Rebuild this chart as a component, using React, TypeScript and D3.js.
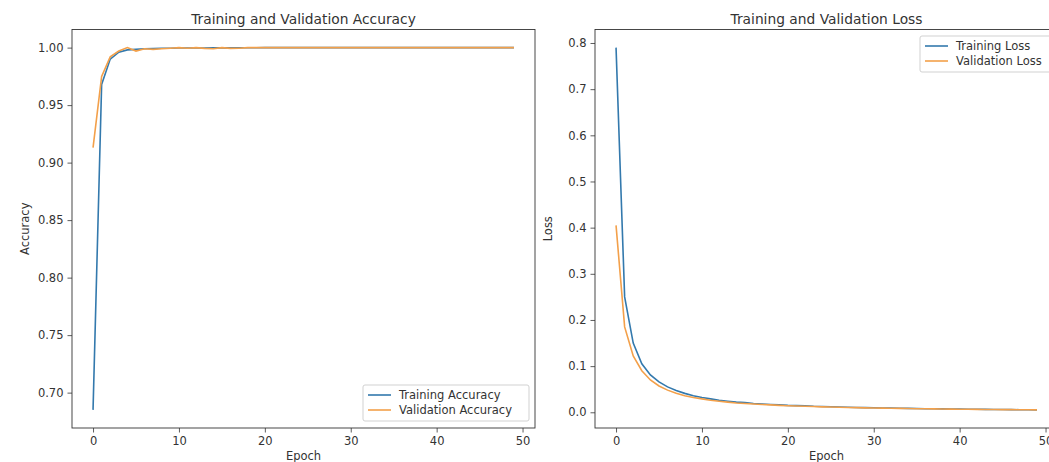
import React, { useEffect, useRef } from "react";
import {
  axisBottom,
  axisLeft,
  scaleLinear,
  line,
  select,
  format,
  min,
  max
} from "d3";

// values (50 epochs)
const epochs = Array.from({ length: 50 }, (_, i) => i);

const trainAcc = [
  0.685, 0.968, 0.99, 0.996, 0.998, 0.9985, 0.999, 0.9992, 0.9994, 0.9995,
  0.9996, 0.9996, 0.9997, 0.9997, 0.9998, 0.9998, 0.9998, 0.9999, 0.9999, 0.9999,
  1.0, 1.0, 1.0, 1.0, 1.0, 1.0, 1.0, 1.0, 1.0, 1.0,
  1.0, 1.0, 1.0, 1.0, 1.0, 1.0, 1.0, 1.0, 1.0, 1.0,
  1.0, 1.0, 1.0, 1.0, 1.0, 1.0, 1.0, 1.0, 1.0, 1.0
];

const valAcc = [
  0.913, 0.975, 0.992, 0.997, 1.0, 0.997, 0.999, 0.9985, 0.999, 0.9995,
  1.0, 0.9995, 1.0, 0.9993, 0.999, 1.0, 0.9993, 0.9995, 1.0, 1.0,
  1.0, 1.0, 1.0, 1.0, 1.0, 1.0, 1.0, 1.0, 1.0, 1.0,
  1.0, 1.0, 1.0, 1.0, 1.0, 1.0, 1.0, 1.0, 1.0, 1.0,
  1.0, 1.0, 1.0, 1.0, 1.0, 1.0, 1.0, 1.0, 1.0, 1.0
];

const trainLoss = [
  0.79, 0.25, 0.15, 0.105, 0.081, 0.066, 0.055, 0.047, 0.041, 0.036,
  0.032, 0.029, 0.026, 0.024, 0.022, 0.021, 0.019, 0.018, 0.017, 0.016,
  0.015, 0.0145, 0.014, 0.013, 0.0125, 0.012, 0.0115, 0.011, 0.0105, 0.01,
  0.0098, 0.0094, 0.009, 0.0087, 0.0084, 0.0081, 0.0078, 0.0076, 0.0073, 0.0071,
  0.0069, 0.0067, 0.0065, 0.0063, 0.0061, 0.0059, 0.0058, 0.0056, 0.0055, 0.0053
];

const valLoss = [
  0.405, 0.185, 0.122, 0.09, 0.07, 0.057, 0.048, 0.041, 0.036, 0.032,
  0.029, 0.026, 0.024, 0.022, 0.02, 0.019, 0.018, 0.017, 0.016, 0.015,
  0.0142, 0.0135, 0.013, 0.0124, 0.0118, 0.0113, 0.0108, 0.0104, 0.01, 0.0096,
  0.0093, 0.009, 0.0087, 0.0084, 0.0081, 0.0078, 0.0076, 0.0074, 0.0071, 0.0069,
  0.0067, 0.0065, 0.0063, 0.0062, 0.006, 0.0058, 0.0057, 0.0055, 0.0054, 0.0052
];

const xTicks = [0, 10, 20, 30, 40, 50];
const accTicks = [0.7, 0.75, 0.8, 0.85, 0.9, 0.95, 1.0];
const lossTicks = [0, 0.1, 0.2, 0.3, 0.4, 0.5, 0.6, 0.7, 0.8];

const BLUE = "#3379ad",
  ORANGE = "#f3a04a",
  INK = "#333",
  FONT = "DejaVu Sans, sans-serif";

function Panel({ box, title, yLabel, series, yTicks, yFormat, legend }) {
  const { left, right, top, bottom } = box;
  const xAxisRef = useRef(null);
  const yAxisRef = useRef(null);

  const all = series.flatMap(s => s.values);
  const lo = min(all),
    hi = max(all),
    pad = (hi - lo) * 0.05;

  const xScale = scaleLinear().domain([-2.45, 51.45]).range([left, right]);
  const yScale = scaleLinear().domain([lo - pad, hi + pad]).range([bottom, top]);

  useEffect(() => {
    const styleAxis = g => {
      g.select(".domain").remove();
      g.selectAll(".tick line").attr("stroke", INK).attr("stroke-width", 0.8);
      g.selectAll(".tick text")
        .attr("fill", INK)
        .style("font-family", FONT)
        .style("font-size", "11.5px");
    };
    select(xAxisRef.current)
      .call(axisBottom(xScale).tickValues(xTicks).tickSize(4.5).tickPadding(4))
      .call(styleAxis);
    select(yAxisRef.current)
      .call(axisLeft(yScale).tickValues(yTicks).tickFormat(format(yFormat)).tickSize(4.5).tickPadding(4))
      .call(styleAxis);
  }, [xScale, yScale]);

  const path = line()
    .x((d, i) => xScale(epochs[i]))
    .y(d => yScale(d));

  const cx = (left + right) / 2,
    cy = (top + bottom) / 2;

  return (
    <g>
      <text x={cx} y={top - 6} textAnchor="middle" fontSize={13.8} fontFamily={FONT} fill={INK}>
        {title}
      </text>
      <g ref={xAxisRef} transform={`translate(0, ${bottom})`} />
      <g ref={yAxisRef} transform={`translate(${left}, 0)`} />
      <text x={cx} y={bottom + 32} textAnchor="middle" fontSize={11.5} fontFamily={FONT} fill={INK}>
        Epoch
      </text>
      <text
        transform={`translate(${left - 43}, ${cy}) rotate(-90)`}
        textAnchor="middle"
        fontSize={11.5}
        fontFamily={FONT}
        fill={INK}
      >
        {yLabel}
      </text>
      {series.map(s => (
        <path key={s.name} d={path(s.values)} fill="none" stroke={s.color} strokeWidth={1.6} />
      ))}
      <rect x={left} y={top} width={right - left} height={bottom - top} fill="none" stroke={INK} strokeWidth={0.9} />
      <g transform={`translate(${legend.x}, ${legend.y})`}>
        <rect x={0} y={0} width={legend.w} height={36} rx={2} fill="white" fillOpacity={0.8} stroke="#ccc" strokeWidth={0.9} />
        {series.map((s, i) => (
          <g key={s.name} transform={`translate(0, ${10 + i * 15})`}>
            <line x1={5} x2={28} y1={0} y2={0} stroke={s.color} strokeWidth={1.6} />
            <text x={36} y={4} fontSize={11.5} fontFamily={FONT} fill={INK}>
              {s.name}
            </text>
          </g>
        ))}
      </g>
    </g>
  );
}

export default function App() {
  const width = 1049,
    height = 462;

  return (
    <svg
      width={width}
      height={height}
      style={{ position: "absolute", left: 0, top: 0, background: "white" }}
    >
      <Panel
        box={{ left: 72, right: 535, top: 29.5, bottom: 428 }}
        title="Training and Validation Accuracy"
        yLabel="Accuracy"
        yTicks={accTicks}
        yFormat=".2f"
        series={[
          { name: "Training Accuracy", values: trainAcc, color: BLUE },
          { name: "Validation Accuracy", values: valAcc, color: ORANGE }
        ]}
        legend={{ x: 363, y: 385, w: 166 }}
      />
      <Panel
        box={{ left: 595, right: 1058, top: 29.5, bottom: 428 }}
        title="Training and Validation Loss"
        yLabel="Loss"
        yTicks={lossTicks}
        yFormat=".1f"
        series={[
          { name: "Training Loss", values: trainLoss, color: BLUE },
          { name: "Validation Loss", values: valLoss, color: ORANGE }
        ]}
        legend={{ x: 920, y: 36, w: 132 }}
      />
    </svg>
  );
}
